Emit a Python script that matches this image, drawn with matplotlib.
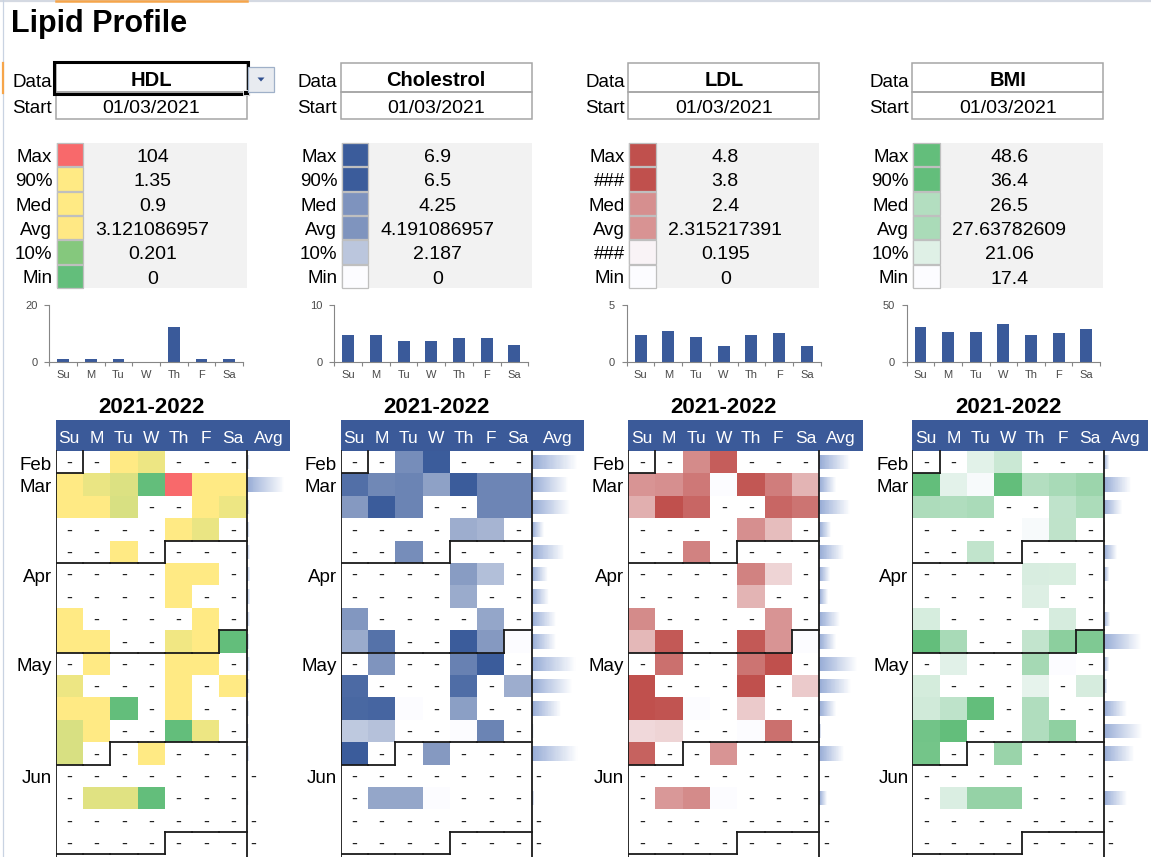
#!/usr/bin/env python3
"""Lipid profile dashboard: four calendar heatmaps with summary stats,
weekday bar charts and weekly average data bars (Excel-style sheet)."""
import datetime as dt

import numpy as np
import matplotlib

matplotlib.use("Agg")
import matplotlib.pyplot as plt
from matplotlib.collections import LineCollection
from matplotlib.colors import LinearSegmentedColormap, Normalize, TwoSlopeNorm
from matplotlib.patches import Polygon, Rectangle

plt.rcParams["font.family"] = ["Liberation Sans", "DejaVu Sans"]

_ = np.nan

TITLE = "Lipid Profile"
START = "01/03/2021"
SEASON = "2021-2022"
DAYS = ["Su", "M", "Tu", "W", "Th", "F", "Sa"]
STAT_LABELS = ["Max", "90%", "Med", "Avg", "10%", "Min"]
LDL_STAT_LABELS = ["Max", "###", "Med", "Avg", "###", "Min"]
NAMES = ["HDL", "Cholestrol", "LDL", "BMI"]

# stats block: max, 90%, median, mean, 10%, min
HDL_STATS = [104, 1.35, 0.9, 3.121086957, 0.201, 0]
CHOL_STATS = [6.9, 6.5, 4.25, 4.191086957, 2.187, 0]
LDL_STATS = [4.8, 3.8, 2.4, 2.315217391, 0.195, 0]
BMI_STATS = [48.6, 36.4, 26.5, 27.63782609, 21.06, 17.4]

# weekday bar charts
HDL_DAY = [0.8, 0.8, 0.8, 0, 12.1, 0.8, 0.8]
CHOL_DAY = [4.7, 4.7, 3.6, 3.6, 4.1, 4.1, 3.0]
LDL_DAY = [2.35, 2.75, 2.2, 1.35, 2.35, 2.5, 1.35]
BMI_DAY = [30.5, 26.2, 26.2, 33.5, 23.5, 25.0, 29.1]
DAY_YMAX = [20, 10, 5, 50]

# calendar cells, one row per week (Sunday first), nan = no reading
HDL_GRID = [
    [_, _, 1.1, 0.8, _, _, _],
    [1.0, 0.78, 0.7, 0, 104, 1.2, 1.1],
    [1.0, 1.0, 0.68, _, _, 1.0, 0.8],
    [_, _, _, _, 1.0, 0.78, _],
    [_, _, 1.0, _, _, _, _],
    [_, _, _, _, 1.2, 1.0, _],
    [_, _, _, _, 1.1, _, _],
    [1.0, _, _, _, _, 1.0, _],
    [1.0, 1.0, _, _, 0.82, 1.0, 0],
    [_, 1.0, _, _, 1.0, 1.0, _],
    [0.8, _, _, _, 1.0, _, 1.0],
    [1.0, 1.0, 0, _, 1.0, _, _],
    [0.68, 1.0, _, _, 0, 0.8, _],
    [0.68, _, _, 1.0, _, _, _],
    [_, _, _, _, _, _, _],
    [_, 0.72, 0.72, 0, _, _, _],
    [_, _, _, _, _, _, _],
    [_, _, _, _, _, _, _],
]
CHOL_GRID = [
    [_, _, 4.5, 6.9, _, _, _],
    [5.7, 4.7, 4.9, 3.7, 6.7, 4.8, 4.8],
    [4.0, 6.6, 4.9, _, _, 4.8, 4.8],
    [_, _, _, _, 3.2, 2.9, _],
    [_, _, 4.5, _, _, _, _],
    [_, _, _, _, 3.9, 2.5, _],
    [_, _, _, _, 3.3, _, _],
    [4.1, _, _, _, _, 3.5, _],
    [3.3, 5.6, _, _, 6.7, 4.0, 0],
    [_, 4.2, _, _, 5.0, 6.8, _],
    [5.9, _, _, _, 5.8, _, 3.2],
    [6.0, 6.1, 0, _, 3.8, _, _],
    [2.1, 2.4, _, _, 0, 4.9, _],
    [6.7, _, _, 4.0, _, _, _],
    [_, _, _, _, _, _, _],
    [_, 3.5, 3.5, 0, _, _, _],
    [_, _, _, _, _, _, _],
    [_, _, _, _, _, _, _],
]
LDL_GRID = [
    [_, _, 2.5, 3.5, _, _, _],
    [2.3, 2.4, 2.9, 0, 3.65, 2.8, 1.6],
    [1.7, 4.0, 3.3, _, _, 3.3, 3.0],
    [_, _, _, _, 2.4, 1.4, _],
    [_, _, 2.7, _, _, _, _],
    [_, _, _, _, 2.7, 0.9, _],
    [_, _, _, _, 1.6, _, _],
    [2.5, _, _, _, _, 2.3, _],
    [1.5, 3.6, _, _, 3.6, 2.3, 0],
    [_, 3.1, _, _, 3.0, 4.0, _],
    [4.2, _, _, _, 4.0, _, 1.1],
    [4.4, 3.7, 0, _, 1.1, _, _],
    [0.8, 0.9, _, _, 0, 3.1, _],
    [3.4, _, _, 2.3, _, _, _],
    [_, _, _, _, _, _, _],
    [_, 2.2, 2.5, 0, _, _, _],
    [_, _, _, _, _, _, _],
    [_, _, _, _, _, _, _],
]
BMI_GRID = [
    [_, _, 20.6, 23.7, _, _, _],
    [38.5, 20.5, 18.0, 38.0, 26.5, 27.8, 29.3],
    [27.2, 26.8, 27.5, _, _, 24.9, 27.3],
    [_, _, _, _, 18.0, 25.0, _],
    [_, _, 24.7, _, _, _, _],
    [_, _, _, _, 21.9, 21.8, _],
    [_, _, _, _, 21.3, _, _],
    [22.1, _, _, _, _, 22.2, _],
    [38.0, 27.8, _, _, 24.6, 31.3, 32.9],
    [_, 20.8, _, _, 28.2, 17.4, _],
    [22.4, _, _, _, 20.1, _, 22.2],
    [22.9, 25.1, 38.0, _, 26.8, _, _],
    [34.5, 38.0, _, _, 26.8, 30.9, _],
    [34.3, _, _, 29.6, _, _, _],
    [_, _, _, _, _, _, _],
    [_, 21.6, 30.2, 30.2, _, _, _],
    [_, _, _, _, _, _, _],
    [_, _, _, _, _, _, _],
]

# weekly averages shown as data bars in the Avg column
HDL_WEEK = [0.87, 15.5, 0.9, 0.9, 1.0, 1.1, 1.1, 1.0, 0.76, 1.0, 0.93, 0.75, 0.62, 0.84, _, 0.48, _, _]
CHOL_WEEK = [5.73, 5.06, 5.21, 3.22, 4.75, 3.52, 3.60, 4.14, 4.14, 5.60, 5.37, 4.52, 2.45, 5.75, _, 2.50, _, _]
LDL_WEEK = [2.83, 1.98, 2.83, 1.68, 2.46, 1.62, 1.49, 2.22, 1.98, 3.25, 2.89, 1.98, 1.07, 2.46, _, 1.43, _, _]
BMI_WEEK = [22.8, 29.4, 26.7, 21.6, 25.2, 22.8, 21.65, 23.1, 32.5, 22.8, 22.2, 28.2, 32.8, 30.4, _, 28.2, _, _]

# ---- layout (pixels) ----
W, H = 1151, 857
GRID_X = [55.7, 340.7, 628.2, 912.5]
AVG_W = [43.7, 52.0, 43.5, 44.5]
CHART_X = [(49.3, 243.0), (334.3, 528.3), (626.7, 820.7), (906.7, 1100.0)]
GRID_W = 191.0
HEAD_TOP, ROW0, RH = 420.0, 451.0, 22.4
STAT_TOP, STAT_H = 142.7, 24.27

HEADER_BLUE = "#3b5a99"
BAR_BLUE = "#3a5a9a"
AXIS_C = "#868686"
TICK_C = "#4a4a4a"
FS = 13.5

DATABAR_CMAP = LinearSegmentedColormap.from_list("databar", ["#97acd6", "#ffffff"])


def px_axes(fig, x0, y0, x1, y1):
    return fig.add_axes([x0 / W, 1 - y1 / H, (x1 - x0) / W, (y1 - y0) / H])


def scale_for(i, stats):
    mx, p90, med, _avg, _p10, mn = stats
    if i == 0:
        cmap = LinearSegmentedColormap.from_list("gyr", ["#63be7b", "#ffeb84", "#f8696b"])
        return cmap, TwoSlopeNorm(vcenter=med, vmin=mn, vmax=mx)
    top = ["#3b5c9b", "#c0504d", "#63be7b"][i - 1]
    cmap = LinearSegmentedColormap.from_list(f"c{i}", ["#fcfcff", top])
    return cmap, Normalize(vmin=mn, vmax=p90, clip=True)


def month_borders(ax, first_sunday, nrows):
    segs = []
    for r in range(nrows):
        for c in range(7):
            d = first_sunday + dt.timedelta(days=7 * r + c)
            if c < 6 and (d + dt.timedelta(days=1)).month != d.month:
                segs.append([(c + 1, r), (c + 1, r + 1)])
            if (d + dt.timedelta(days=7)).month != d.month:
                segs.append([(c, r + 1), (c + 1, r + 1)])
    segs.append([(0, 0), (0, nrows)])
    segs.append([(7, 0), (7, nrows)])
    ax.add_collection(LineCollection(segs, colors="#1a1a1a", linewidths=1.3, capstyle="projecting"))


def main():
    start = dt.datetime.strptime(START, "%d/%m/%Y").date()
    first_sunday = start - dt.timedelta(days=(start.weekday() + 1) % 7)

    stats_all = [HDL_STATS, CHOL_STATS, LDL_STATS, BMI_STATS]
    day_all = [HDL_DAY, CHOL_DAY, LDL_DAY, BMI_DAY]
    grid_all = [HDL_GRID, CHOL_GRID, LDL_GRID, BMI_GRID]
    week_all = [HDL_WEEK, CHOL_WEEK, LDL_WEEK, BMI_WEEK]

    fig = plt.figure(figsize=(W / 100, H / 100), dpi=100)
    base = fig.add_axes([0, 0, 1, 1])
    base.set_xlim(0, W)
    base.set_ylim(H, 0)
    base.axis("off")

    # spreadsheet chrome
    base.plot([0, W], [1.2, 1.2], color="#d4d9e2", lw=1.6)
    base.plot([56, 247], [1.2, 1.2], color="#f6a54a", lw=1.8)
    base.plot([3.5, 3.5], [0, H], color="#c9d3e2", lw=0.9)
    base.plot([3.5, 3.5], [63, 93], color="#f6a54a", lw=1.6)

    base.text(11, 31.7, TITLE, fontsize=22, fontweight="bold", ha="left", va="baseline")

    grad = np.linspace(0, 1, 40)[None, :]
    for i in range(4):
        gx = GRID_X[i]
        avg_w = AVG_W[i]
        mid = gx + GRID_W / 2
        stats = stats_all[i]
        cmap, norm = scale_for(i, stats)

        # data / start selector
        base.text(gx - 3.5, 87, "Data", ha="right", va="baseline", fontsize=FS)
        base.add_patch(Rectangle((gx, 63.3), GRID_W, 29, fill=False, ec="#a6a6a6", lw=1.1))
        base.text(mid, 86.3, NAMES[i], ha="center", va="baseline", fontsize=14.5, fontweight="bold")
        base.text(gx - 3.5, 113.3, "Start", ha="right", va="baseline", fontsize=FS)
        base.add_patch(Rectangle((gx, 92.3), GRID_W, 27, fill=False, ec="#a6a6a6", lw=1.1))
        base.text(mid, 112.8, START, ha="center", va="baseline", fontsize=14)
        if i == 0:
            base.add_patch(Rectangle((gx - 1.3, 62.0), GRID_W + 2.6, 31.8, fill=False, ec="black", lw=2.2))
            base.add_patch(Rectangle((gx + GRID_W - 3.5, 89.5), 5.5, 5.5, fc="black", ec="white", lw=0.6))
            base.add_patch(Rectangle((248.5, 67.0), 25.5, 24.5, fc="#e8ebf0", ec="#9fb0c8", lw=0.9))
            base.add_patch(Polygon([(257.5, 77.5), (264.5, 77.5), (261.0, 81.5)], fc="#2f4f8f", ec="none"))

        # stats block with colour swatches
        labels = LDL_STAT_LABELS if i == 2 else STAT_LABELS
        base.add_patch(Rectangle((gx, STAT_TOP), GRID_W, STAT_H * 6, fc="#f2f2f2", ec="none"))
        for k, val in enumerate(stats):
            y0 = STAT_TOP + k * STAT_H
            base.add_patch(Rectangle((gx + 1, y0 + 0.5), 26.6, STAT_H - 1, fc=cmap(norm(val)),
                                     ec="#bfbfbf", lw=0.9))
            base.text(gx - 3.5, y0 + 19.3, labels[k], ha="right", va="baseline", fontsize=FS)
            base.text(mid + 1.5, y0 + 19.5, str(val), ha="center", va="baseline", fontsize=14)

        # weekday bar chart
        cx0, cx1 = CHART_X[i]
        bx = px_axes(fig, cx0, 305.0, cx1, 361.7)
        bx.bar(np.arange(7), day_all[i], width=0.43, color=BAR_BLUE)
        bx.set_xlim(-0.5, 6.5)
        bx.set_ylim(0, DAY_YMAX[i])
        bx.set_yticks([0, DAY_YMAX[i]])
        bx.set_xticks(np.arange(7))
        bx.set_xticklabels(DAYS)
        bx.set_xticks(np.arange(-0.5, 7, 1), minor=True)
        bx.tick_params(axis="x", which="major", length=0, pad=6.0, labelsize=8, labelcolor=TICK_C)
        bx.tick_params(axis="x", which="minor", length=3, width=0.8, color=AXIS_C)
        bx.tick_params(axis="y", length=3.5, width=0.8, pad=5, color=AXIS_C, labelsize=8, labelcolor=TICK_C)
        for s in ("top", "right"):
            bx.spines[s].set_visible(False)
        for s in ("left", "bottom"):
            bx.spines[s].set_color(AXIS_C)
            bx.spines[s].set_linewidth(0.8)
        bx.patch.set_alpha(0)

        # calendar heatmap
        base.text(mid, 413.3, SEASON, ha="center", va="baseline", fontsize=16, fontweight="bold")
        cw = GRID_W / 7
        xmax = 7 + avg_w / cw
        cal = px_axes(fig, gx, HEAD_TOP, gx + GRID_W + avg_w, H)
        cal.axis("off")
        grid = np.array(grid_all[i], dtype=float)
        nrows = grid.shape[0]
        cal.pcolormesh(np.arange(8), np.arange(nrows + 1), np.ma.masked_invalid(grid), cmap=cmap, norm=norm)

        head_h = (ROW0 - HEAD_TOP) / RH
        cal.add_patch(Rectangle((0, -head_h), xmax, head_h, fc=HEADER_BLUE, ec="none"))
        ty = -head_h + 23.3 / RH
        for c, d in enumerate(DAYS):
            cal.text(c + 0.5, ty, d, ha="center", va="baseline", color="white", fontsize=12.5)
        cal.text(7 + (xmax - 7) / 2, ty, "Avg", ha="center", va="baseline", color="white", fontsize=12.5)

        for r in range(nrows):
            for c in range(7):
                if np.isnan(grid[r, c]):
                    cal.text(c + 0.5, r + 0.77, "-", ha="center", va="baseline", fontsize=13, color="#222222")

        # weekly average data bars: colour on the left fading to white at the bar's end
        week = np.array(week_all[i], dtype=float)
        lo, hi = np.nanmin(week), np.nanmax(week)
        max_len = (avg_w - 5) / cw
        min_len = 2 / cw
        for r, v in enumerate(week):
            if np.isnan(v):
                cal.text(7 + 6.5 / cw, r + 0.77, "-", ha="center", va="baseline", fontsize=13, color="#222222")
                continue
            length = min_len + (v - lo) / (hi - lo) * (max_len - min_len)
            xs = np.linspace(7, 7 + length, grad.shape[1] + 1)
            cal.pcolormesh(xs, [r + 0.18, r + 0.82], grad, cmap=DATABAR_CMAP, vmin=0, vmax=1)

        month_borders(cal, first_sunday, nrows + 1)

        prev = None
        for r in range(nrows):
            sunday = first_sunday + dt.timedelta(days=7 * r)
            if sunday.month != prev:
                cal.text(-4 / cw, r + 0.83, sunday.strftime("%b"), ha="right", va="baseline", fontsize=FS)
            prev = sunday.month

        cal.set_xlim(0, xmax)
        cal.set_ylim((H - ROW0) / RH, -head_h)

    fig.savefig("out.png", dpi=100)
    plt.close(fig)


if __name__ == "__main__":
    main()
